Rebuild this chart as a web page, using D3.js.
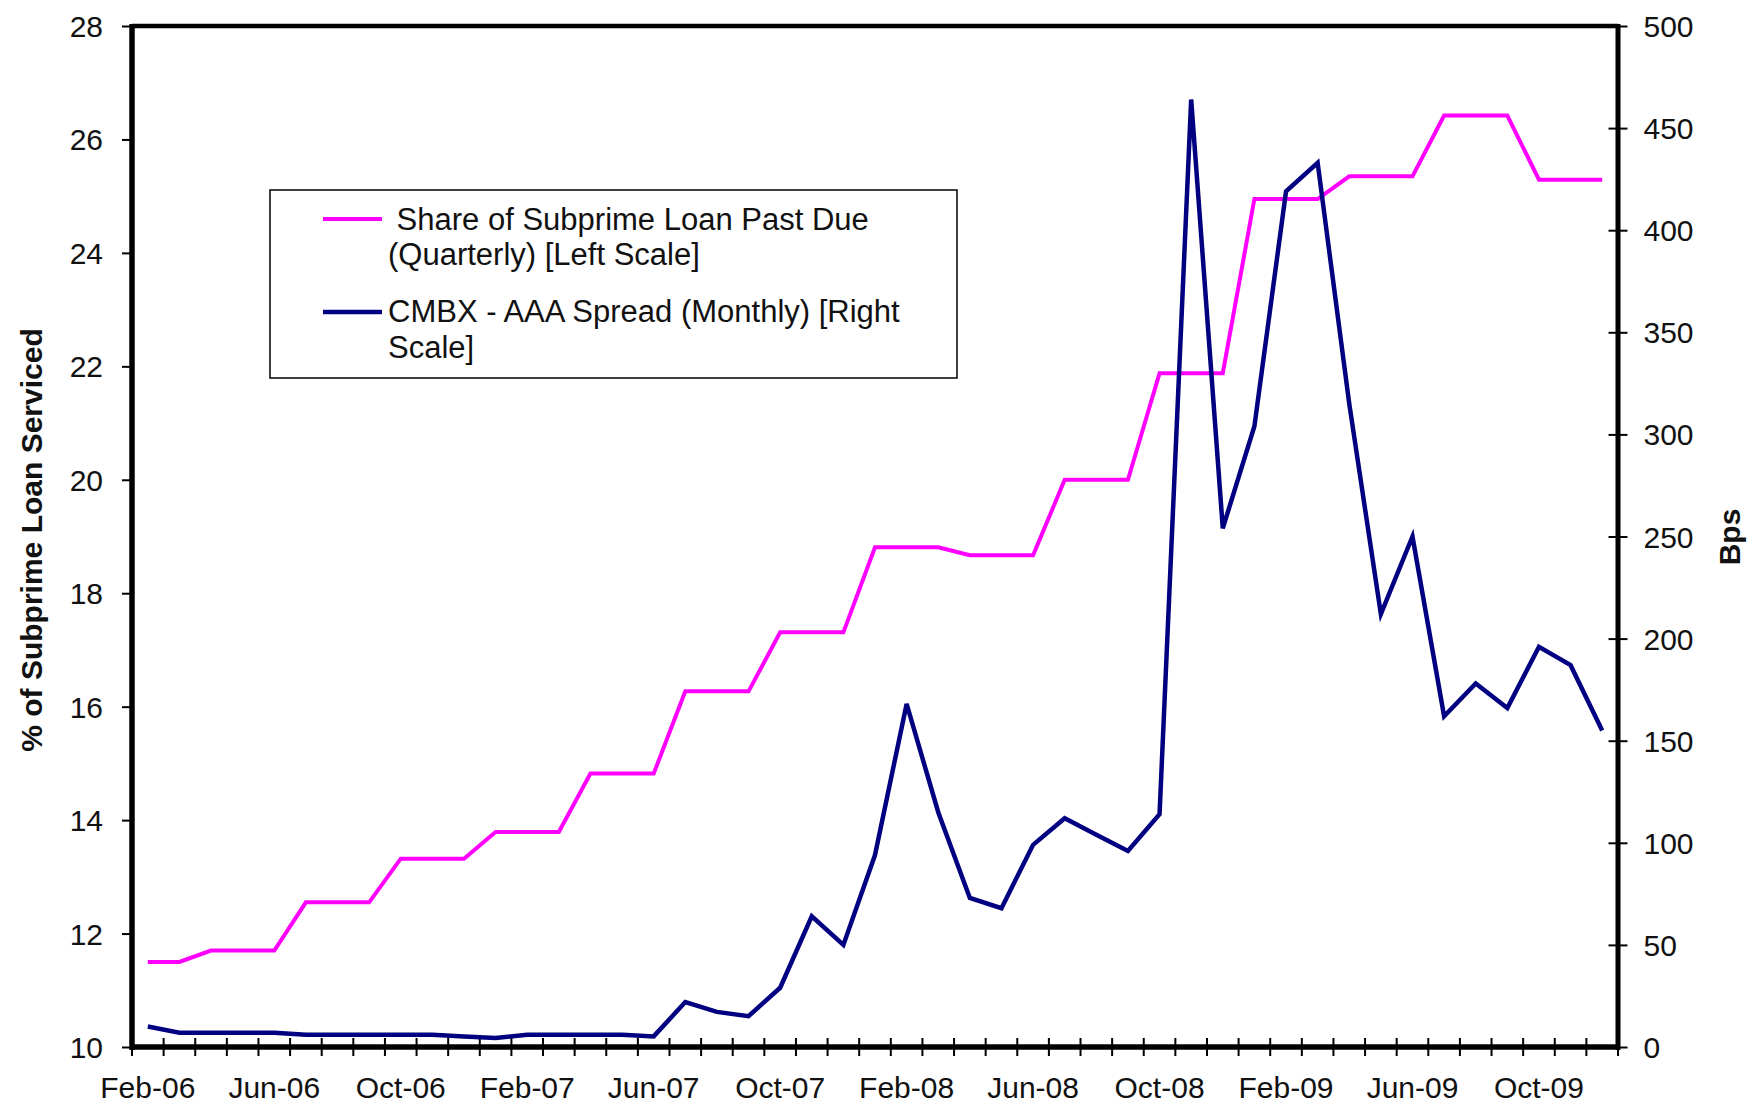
<!DOCTYPE html>
<html>
<head>
<meta charset="utf-8">
<script src="https://cdn.jsdelivr.net/npm/d3@7"></script>
<style>
  body { margin: 0; background: #fff; }
  svg text { font-family: "Liberation Sans", Arial, sans-serif; fill: #111; }
</style>
</head>
<body>
<svg id="chart"></svg>
<script>
// categories: one per month
var months = [
  "Feb-06","Mar-06","Apr-06","May-06","Jun-06","Jul-06","Aug-06","Sep-06","Oct-06","Nov-06","Dec-06",
  "Jan-07","Feb-07","Mar-07","Apr-07","May-07","Jun-07","Jul-07","Aug-07","Sep-07","Oct-07","Nov-07","Dec-07",
  "Jan-08","Feb-08","Mar-08","Apr-08","May-08","Jun-08","Jul-08","Aug-08","Sep-08","Oct-08","Nov-08","Dec-08",
  "Jan-09","Feb-09","Mar-09","Apr-09","May-09","Jun-09","Jul-09","Aug-09","Sep-09","Oct-09","Nov-09","Dec-09"
];

// share of subprime loans past due (%), quarterly held over 3 months
var pastDue = [
  11.5, 11.5, 11.7, 11.7, 11.7, 12.55, 12.55, 12.55, 13.32, 13.32, 13.32,
  13.79, 13.79, 13.79, 14.82, 14.82, 14.82, 16.27, 16.27, 16.27, 17.31, 17.31, 17.31,
  18.81, 18.81, 18.81, 18.67, 18.67, 18.67, 20.0, 20.0, 20.0, 21.88, 21.88, 21.88,
  24.95, 24.95, 24.95, 25.35, 25.35, 25.35, 26.42, 26.42, 26.42, 25.29, 25.29, 25.29
];

// CMBX AAA spread (bps), monthly
var cmbx = [
  10, 7, 7, 7, 7, 6, 6, 6, 6, 6, 5.2,
  4.4, 6, 6, 6, 6, 5.2, 22, 17.2, 15.1, 29, 64, 50,
  94, 168, 115, 73, 68, 99, 112, 104, 96, 114, 464, 254,
  304, 419, 433, 315, 212, 250, 162, 178, 166, 196, 187, 155
];

var leftTicks = [10, 12, 14, 16, 18, 20, 22, 24, 26, 28];
var rightTicks = [0, 50, 100, 150, 200, 250, 300, 350, 400, 450, 500];
var labelMonths = ["Feb-06","Jun-06","Oct-06","Feb-07","Jun-07","Oct-07","Feb-08","Jun-08","Oct-08","Feb-09","Jun-09","Oct-09"];

var width = 1751, height = 1107;
var plotL = 132, plotR = 1618, plotT = 26, plotB = 1047;

var svg = d3.select("#chart")
    .attr("width", width)
    .attr("height", height);

var x = d3.scaleBand()
    .domain(months)
    .range([plotL, plotR])
    .padding(0);

var yL = d3.scaleLinear().domain([10, 28]).range([plotB, plotT]);
var yR = d3.scaleLinear().domain([0, 500]).range([plotB, plotT]);

var cx = function(m){ return x(m) + x.bandwidth() / 2; };

// left axis
var gL = svg.append("g")
    .attr("transform", "translate(" + plotL + ",0)")
    .call(d3.axisLeft(yL).tickValues(leftTicks).tickSize(10).tickPadding(19).tickFormat(d3.format("d")));
gL.select(".domain").remove();
gL.selectAll("line").attr("stroke", "#000").attr("stroke-width", 2);
gL.selectAll("text").style("font-size", "30px").attr("dy", "0.35em");

// right axis
var gR = svg.append("g")
    .attr("transform", "translate(" + plotR + ",0)")
    .call(d3.axisRight(yR).tickValues(rightTicks).tickSize(9.5).tickPadding(16));
gR.select(".domain").remove();
gR.selectAll("line").attr("x1", -9.5).attr("stroke", "#000").attr("stroke-width", 2);
gR.selectAll("text").style("font-size", "30px").attr("dy", "0.35em");

// bottom axis: labels centred on every 4th month
var gB = svg.append("g")
    .attr("transform", "translate(0," + plotB + ")")
    .call(d3.axisBottom(x).tickValues(labelMonths).tickSize(0).tickPadding(30));
gB.select(".domain").remove();
gB.selectAll("text").style("font-size", "30px");

// month ticks at band edges, crossing the axis
var edges = months.map(function(m){ return x(m); }).concat([plotR]);
svg.append("g").selectAll("line")
    .data(edges)
    .enter()
    .append("line")
        .attr("x1", d => d).attr("x2", d => d)
        .attr("y1", plotB - 9).attr("y2", plotB + 9)
        .attr("stroke", "#000").attr("stroke-width", 2);

// frame
svg.append("line").attr("x1", plotL).attr("x2", plotR).attr("y1", plotT).attr("y2", plotT)
    .attr("stroke", "#000").attr("stroke-width", 4.5);
svg.append("line").attr("x1", plotL).attr("x2", plotL).attr("y1", plotT - 2).attr("y2", plotB + 3)
    .attr("stroke", "#000").attr("stroke-width", 5.5);
svg.append("line").attr("x1", plotR).attr("x2", plotR).attr("y1", plotT - 2).attr("y2", plotB + 3)
    .attr("stroke", "#000").attr("stroke-width", 5);
svg.append("line").attr("x1", plotL - 2).attr("x2", plotR + 2).attr("y1", plotB).attr("y2", plotB)
    .attr("stroke", "#000").attr("stroke-width", 5.5);

// series
var linePink = d3.line()
    .x((d, i) => cx(months[i]))
    .y(d => yL(d));
var lineBlue = d3.line()
    .x((d, i) => cx(months[i]))
    .y(d => yR(d));

svg.append("path")
    .datum(pastDue)
    .attr("d", linePink)
    .attr("fill", "none")
    .attr("stroke", "#ff00ff")
    .attr("stroke-width", 4);

svg.append("path")
    .datum(cmbx)
    .attr("d", lineBlue)
    .attr("fill", "none")
    .attr("stroke", "#000080")
    .attr("stroke-width", 4.5);

// axis titles
svg.append("text")
    .attr("transform", "translate(31,540) rotate(-90)")
    .attr("text-anchor", "middle")
    .attr("dominant-baseline", "central")
    .style("font-size", "30px")
    .style("font-weight", "bold")
    .text("% of Subprime Loan Serviced");

svg.append("text")
    .attr("transform", "translate(1729,537) rotate(-90)")
    .attr("text-anchor", "middle")
    .attr("dominant-baseline", "central")
    .style("font-size", "30px")
    .style("font-weight", "bold")
    .text("Bps");

// legend
var legend = svg.append("g");
legend.append("rect")
    .attr("x", 270).attr("y", 190)
    .attr("width", 687).attr("height", 188)
    .attr("fill", "#fff")
    .attr("stroke", "#000")
    .attr("stroke-width", 1.5);

var legendItems = [
  {color: "#ff00ff", sw: 4, ly: 219, lines: [" Share of Subprime Loan Past Due", "(Quarterly) [Left Scale]"], base: [230, 265]},
  {color: "#000080", sw: 4.5, ly: 312, lines: ["CMBX - AAA Spread (Monthly) [Right", "Scale]"], base: [322, 358]}
];

legendItems.forEach(function(item){
    legend.append("line")
        .attr("x1", 323).attr("x2", 382)
        .attr("y1", item.ly).attr("y2", item.ly)
        .attr("stroke", item.color)
        .attr("stroke-width", item.sw);
    item.lines.forEach(function(t, j){
        legend.append("text")
            .attr("x", 388).attr("y", item.base[j])
            .attr("xml:space", "preserve")
            .style("white-space", "pre")
            .style("font-size", "31px")
            .text(t);
    });
});
</script>
</body>
</html>
